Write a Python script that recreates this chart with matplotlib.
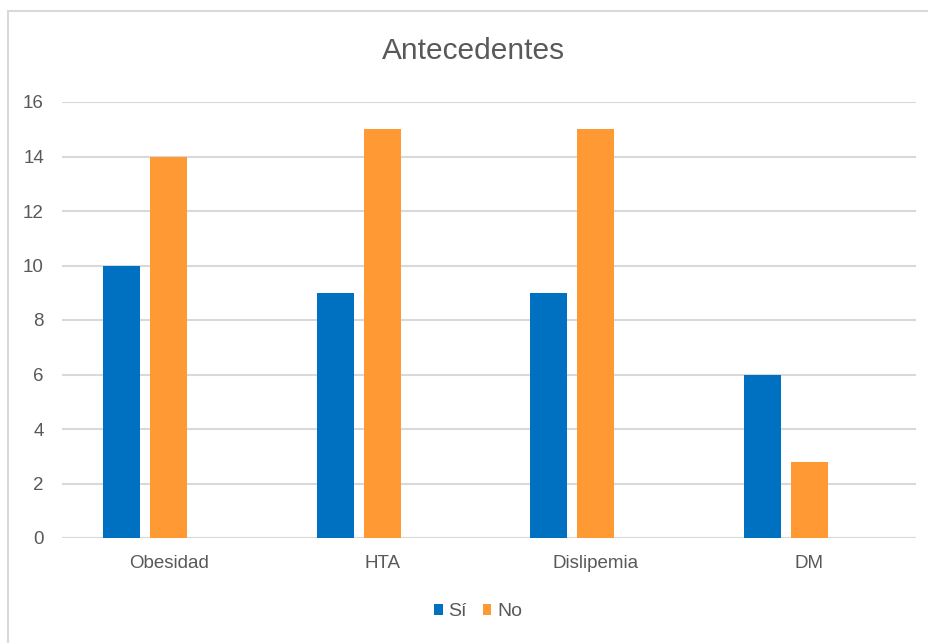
import numpy as np
import matplotlib.pyplot as plt
from matplotlib.patches import Rectangle

plt.rcParams['font.family'] = ['Liberation Sans', 'DejaVu Sans']

categories = ['Obesidad', 'HTA', 'Dislipemia', 'DM']
si = [10, 9, 9, 6]
no = [14, 15, 15, 2.8]

fig = plt.figure(figsize=(9.29, 6.43), dpi=100)
# chart border
fig.patches.append(Rectangle((8 / 929, -0.1), 1.2, 1 - 11 / 643 + 0.1, transform=fig.transFigure,
                             fill=False, edgecolor='#d9d9d9', linewidth=1.5))
ax = fig.add_axes([62 / 929, 1 - 538 / 643, (916 - 62) / 929, (538 - 102) / 643])

x = np.arange(len(categories))
w = 37 / 213.5
pitch = 47 / 213.5
ax.bar(x - pitch, si, width=w, color='#0070C0', label='Sí', zorder=3)
ax.bar(x, no, width=w, color='#FF9933', label='No', zorder=3)

ax.set_xlim(-0.5, len(categories) - 0.5)
ax.set_ylim(0, 16)
ax.set_yticks(range(0, 17, 2))
ax.set_xticks(x)
ax.set_xticklabels(categories)
ax.yaxis.grid(True, color='#d9d9d9', linewidth=1.5, zorder=0)
for s in ax.spines.values():
    s.set_visible(False)
ax.tick_params(length=0, labelsize=13.5, labelcolor='#595959')
ax.tick_params(axis='x', pad=12)
ax.tick_params(axis='y', pad=13)
ax.axhline(0, color='#d9d9d9', linewidth=1.5, zorder=2)

fig.text(473 / 929, 1 - 51 / 643, 'Antecedentes', ha='center', va='center', fontsize=21.5, color='#595959')
fig.legend(loc='center', bbox_to_anchor=(478 / 929, 1 - 612 / 643), ncol=2, frameon=False,
           fontsize=14, handlelength=0.45, handleheight=0.45, handletextpad=0.3, columnspacing=0.8,
           labelcolor='#595959')

fig.savefig('out.png', dpi=100)
